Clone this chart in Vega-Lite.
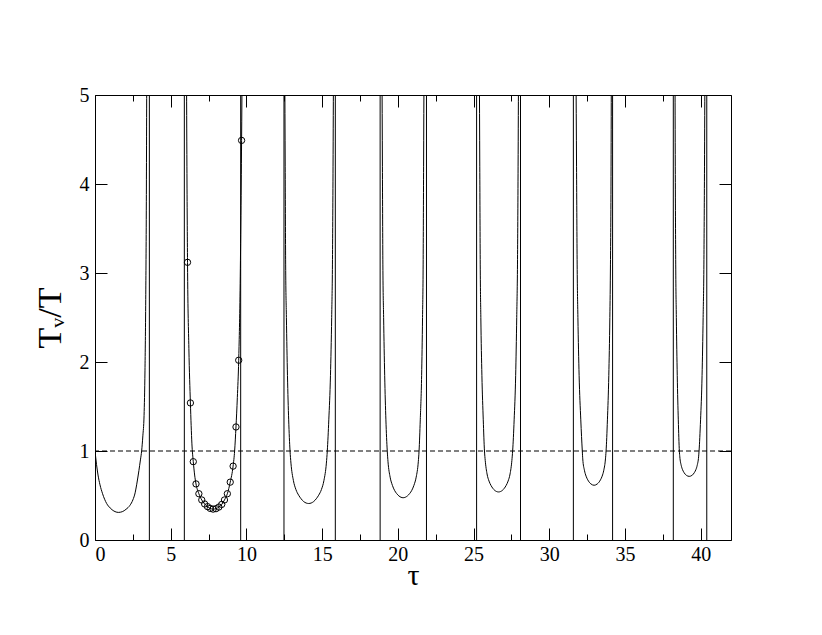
{
  "$schema": "https://vega.github.io/schema/vega-lite/v6.json",
  "width": 636,
  "height": 445,
  "autosize": "none",
  "padding": {"left": 95, "top": 95, "right": 91, "bottom": 95},
  "background": "white",
  "config": {
    "view": {"stroke": "black", "strokeWidth": 1},
    "axis": {
      "labelFont": "Liberation Serif",
      "labelFontSize": 20,
      "labelColor": "black",
      "tickColor": "black",
      "tickWidth": 1,
      "domain": false,
      "grid": false,
      "titleFont": "Liberation Serif",
      "titleFontWeight": "normal",
      "titleColor": "black"
    }
  },
  "datasets": {
    "poles": [
      {"x": 3.59}, {"x": 5.90}, {"x": 9.62}, {"x": 12.48}, {"x": 15.87}, {"x": 18.83}, {"x": 21.89},
      {"x": 25.20}, {"x": 28.10}, {"x": 31.59}, {"x": 34.18}, {"x": 38.19}, {"x": 40.40}
    ],
    "curves": [
      {"b": 1, "x": 0, "y": 1.0}, {"b": 1, "x": 0.1, "y": 0.85}, {"b": 1, "x": 0.2, "y": 0.73}, {"b": 1, "x": 0.33, "y": 0.62},
      {"b": 1, "x": 0.5, "y": 0.52}, {"b": 1, "x": 0.77, "y": 0.41}, {"b": 1, "x": 1.0, "y": 0.36}, {"b": 1, "x": 1.25, "y": 0.325},
      {"b": 1, "x": 1.54, "y": 0.31}, {"b": 1, "x": 1.8, "y": 0.318}, {"b": 1, "x": 2.05, "y": 0.345}, {"b": 1, "x": 2.31, "y": 0.39},
      {"b": 1, "x": 2.5, "y": 0.45}, {"b": 1, "x": 2.65, "y": 0.53}, {"b": 1, "x": 2.75, "y": 0.62}, {"b": 1, "x": 2.9, "y": 0.78},
      {"b": 1, "x": 3.0, "y": 0.9}, {"b": 1, "x": 3.08, "y": 1.0}, {"b": 1, "x": 3.16, "y": 1.17}, {"b": 1, "x": 3.24, "y": 1.4},
      {"b": 1, "x": 3.3, "y": 1.9}, {"b": 1, "x": 3.35, "y": 2.7}, {"b": 1, "x": 3.39, "y": 3.8}, {"b": 1, "x": 3.42, "y": 5.4},

      {"b": 2, "x": 6.04, "y": 5.4}, {"b": 2, "x": 6.07, "y": 4.2}, {"b": 2, "x": 6.11, "y": 3.12}, {"b": 2, "x": 6.2, "y": 2.15},
      {"b": 2, "x": 6.30, "y": 1.54}, {"b": 2, "x": 6.40, "y": 1.08}, {"b": 2, "x": 6.49, "y": 0.88}, {"b": 2, "x": 6.58, "y": 0.73},
      {"b": 2, "x": 6.67, "y": 0.63}, {"b": 2, "x": 6.86, "y": 0.52}, {"b": 2, "x": 7.05, "y": 0.45}, {"b": 2, "x": 7.24, "y": 0.405},
      {"b": 2, "x": 7.43, "y": 0.375}, {"b": 2, "x": 7.61, "y": 0.355}, {"b": 2, "x": 7.80, "y": 0.347}, {"b": 2, "x": 7.99, "y": 0.352},
      {"b": 2, "x": 8.18, "y": 0.37}, {"b": 2, "x": 8.37, "y": 0.40}, {"b": 2, "x": 8.55, "y": 0.45}, {"b": 2, "x": 8.74, "y": 0.52},
      {"b": 2, "x": 8.93, "y": 0.65}, {"b": 2, "x": 9.12, "y": 0.83}, {"b": 2, "x": 9.22, "y": 1.0}, {"b": 2, "x": 9.31, "y": 1.27},
      {"b": 2, "x": 9.40, "y": 1.6}, {"b": 2, "x": 9.49, "y": 2.02}, {"b": 2, "x": 9.58, "y": 2.8}, {"b": 2, "x": 9.68, "y": 4.49},
      {"b": 2, "x": 9.72, "y": 5.4},

      {"b": 3, "x": 12.53, "y": 5.4}, {"b": 3, "x": 12.56, "y": 4.2}, {"b": 3, "x": 12.59, "y": 3.1}, {"b": 3, "x": 12.64, "y": 2.5},
      {"b": 3, "x": 12.71, "y": 1.85}, {"b": 3, "x": 12.79, "y": 1.35}, {"b": 3, "x": 12.88, "y": 1.0}, {"b": 3, "x": 12.94, "y": 0.864},
      {"b": 3, "x": 13.10, "y": 0.67}, {"b": 3, "x": 13.27, "y": 0.566}, {"b": 3, "x": 13.45, "y": 0.503}, {"b": 3, "x": 13.61, "y": 0.463},
      {"b": 3, "x": 13.78, "y": 0.432}, {"b": 3, "x": 14.11, "y": 0.41}, {"b": 3, "x": 14.44, "y": 0.432}, {"b": 3, "x": 14.61, "y": 0.463},
      {"b": 3, "x": 14.77, "y": 0.503}, {"b": 3, "x": 14.95, "y": 0.566}, {"b": 3, "x": 15.12, "y": 0.67}, {"b": 3, "x": 15.28, "y": 0.864},
      {"b": 3, "x": 15.34, "y": 1.0}, {"b": 3, "x": 15.44, "y": 1.35}, {"b": 3, "x": 15.55, "y": 1.85}, {"b": 3, "x": 15.63, "y": 2.5},
      {"b": 3, "x": 15.68, "y": 3.1}, {"b": 3, "x": 15.72, "y": 4.2}, {"b": 3, "x": 15.75, "y": 5.4},

      {"b": 4, "x": 18.95, "y": 5.4}, {"b": 4, "x": 18.98, "y": 4.2}, {"b": 4, "x": 19.01, "y": 3.1}, {"b": 4, "x": 19.06, "y": 2.5},
      {"b": 4, "x": 19.13, "y": 1.85}, {"b": 4, "x": 19.21, "y": 1.35}, {"b": 4, "x": 19.30, "y": 1.0}, {"b": 4, "x": 19.35, "y": 0.879},
      {"b": 4, "x": 19.49, "y": 0.706}, {"b": 4, "x": 19.64, "y": 0.614}, {"b": 4, "x": 19.78, "y": 0.558}, {"b": 4, "x": 19.92, "y": 0.522},
      {"b": 4, "x": 20.07, "y": 0.495}, {"b": 4, "x": 20.35, "y": 0.475}, {"b": 4, "x": 20.63, "y": 0.495}, {"b": 4, "x": 20.78, "y": 0.522},
      {"b": 4, "x": 20.92, "y": 0.558}, {"b": 4, "x": 21.06, "y": 0.614}, {"b": 4, "x": 21.21, "y": 0.706}, {"b": 4, "x": 21.35, "y": 0.879},
      {"b": 4, "x": 21.40, "y": 1.0}, {"b": 4, "x": 21.48, "y": 1.35}, {"b": 4, "x": 21.57, "y": 1.85}, {"b": 4, "x": 21.63, "y": 2.5},
      {"b": 4, "x": 21.67, "y": 3.1}, {"b": 4, "x": 21.70, "y": 4.2}, {"b": 4, "x": 21.73, "y": 5.4},

      {"b": 5, "x": 25.38, "y": 5.4}, {"b": 5, "x": 25.41, "y": 4.2}, {"b": 5, "x": 25.44, "y": 3.1}, {"b": 5, "x": 25.48, "y": 2.5},
      {"b": 5, "x": 25.55, "y": 1.85}, {"b": 5, "x": 25.64, "y": 1.35}, {"b": 5, "x": 25.72, "y": 1.0}, {"b": 5, "x": 25.77, "y": 0.894},
      {"b": 5, "x": 25.89, "y": 0.742}, {"b": 5, "x": 26.02, "y": 0.662}, {"b": 5, "x": 26.15, "y": 0.613}, {"b": 5, "x": 26.27, "y": 0.581},
      {"b": 5, "x": 26.40, "y": 0.557}, {"b": 5, "x": 26.65, "y": 0.54}, {"b": 5, "x": 26.90, "y": 0.557}, {"b": 5, "x": 27.03, "y": 0.581},
      {"b": 5, "x": 27.15, "y": 0.613}, {"b": 5, "x": 27.28, "y": 0.662}, {"b": 5, "x": 27.41, "y": 0.742}, {"b": 5, "x": 27.53, "y": 0.894},
      {"b": 5, "x": 27.58, "y": 1.0}, {"b": 5, "x": 27.68, "y": 1.35}, {"b": 5, "x": 27.78, "y": 1.85}, {"b": 5, "x": 27.85, "y": 2.5},
      {"b": 5, "x": 27.90, "y": 3.1}, {"b": 5, "x": 27.94, "y": 4.2}, {"b": 5, "x": 27.97, "y": 5.4},

      {"b": 6, "x": 31.76, "y": 5.4}, {"b": 6, "x": 31.80, "y": 4.2}, {"b": 6, "x": 31.84, "y": 3.1}, {"b": 6, "x": 31.89, "y": 2.5},
      {"b": 6, "x": 31.97, "y": 1.85}, {"b": 6, "x": 32.08, "y": 1.35}, {"b": 6, "x": 32.18, "y": 1.0}, {"b": 6, "x": 32.21, "y": 0.911},
      {"b": 6, "x": 32.32, "y": 0.784}, {"b": 6, "x": 32.43, "y": 0.717}, {"b": 6, "x": 32.54, "y": 0.676}, {"b": 6, "x": 32.64, "y": 0.649},
      {"b": 6, "x": 32.75, "y": 0.630}, {"b": 6, "x": 32.96, "y": 0.615}, {"b": 6, "x": 33.17, "y": 0.630}, {"b": 6, "x": 33.28, "y": 0.649},
      {"b": 6, "x": 33.38, "y": 0.676}, {"b": 6, "x": 33.49, "y": 0.717}, {"b": 6, "x": 33.60, "y": 0.784}, {"b": 6, "x": 33.71, "y": 0.911},
      {"b": 6, "x": 33.75, "y": 1.0}, {"b": 6, "x": 33.84, "y": 1.35}, {"b": 6, "x": 33.93, "y": 1.85}, {"b": 6, "x": 34.00, "y": 2.5},
      {"b": 6, "x": 34.04, "y": 3.1}, {"b": 6, "x": 34.08, "y": 4.2}, {"b": 6, "x": 34.10, "y": 5.4},

      {"b": 7, "x": 38.30, "y": 5.4}, {"b": 7, "x": 38.32, "y": 4.2}, {"b": 7, "x": 38.35, "y": 3.1}, {"b": 7, "x": 38.39, "y": 2.5},
      {"b": 7, "x": 38.45, "y": 1.85}, {"b": 7, "x": 38.52, "y": 1.35}, {"b": 7, "x": 38.59, "y": 1.0}, {"b": 7, "x": 38.62, "y": 0.934},
      {"b": 7, "x": 38.71, "y": 0.840}, {"b": 7, "x": 38.80, "y": 0.790}, {"b": 7, "x": 38.89, "y": 0.760}, {"b": 7, "x": 38.97, "y": 0.740},
      {"b": 7, "x": 39.06, "y": 0.726}, {"b": 7, "x": 39.24, "y": 0.715}, {"b": 7, "x": 39.42, "y": 0.726}, {"b": 7, "x": 39.51, "y": 0.740},
      {"b": 7, "x": 39.59, "y": 0.760}, {"b": 7, "x": 39.68, "y": 0.790}, {"b": 7, "x": 39.77, "y": 0.840}, {"b": 7, "x": 39.86, "y": 0.934},
      {"b": 7, "x": 39.89, "y": 1.0}, {"b": 7, "x": 39.99, "y": 1.35}, {"b": 7, "x": 40.09, "y": 1.85}, {"b": 7, "x": 40.16, "y": 2.5},
      {"b": 7, "x": 40.21, "y": 3.1}, {"b": 7, "x": 40.25, "y": 4.2}, {"b": 7, "x": 40.28, "y": 5.4}
    ],
    "circles": [
      {"x": 6.11, "y": 3.12}, {"x": 6.30, "y": 1.54}, {"x": 6.49, "y": 0.88}, {"x": 6.67, "y": 0.63},
      {"x": 6.86, "y": 0.52}, {"x": 7.05, "y": 0.45}, {"x": 7.24, "y": 0.405}, {"x": 7.43, "y": 0.375},
      {"x": 7.61, "y": 0.355}, {"x": 7.80, "y": 0.347}, {"x": 7.99, "y": 0.352}, {"x": 8.18, "y": 0.37},
      {"x": 8.37, "y": 0.40}, {"x": 8.55, "y": 0.45}, {"x": 8.74, "y": 0.52}, {"x": 8.93, "y": 0.65},
      {"x": 9.12, "y": 0.83}, {"x": 9.31, "y": 1.27}, {"x": 9.49, "y": 2.02}, {"x": 9.68, "y": 4.49}
    ]
  },
  "layer": [
    {
      "data": {"name": "poles"},
      "mark": {"type": "rule", "color": "black", "strokeWidth": 1},
      "encoding": {
        "x": {
          "field": "x", "type": "quantitative",
          "scale": {"domain": [0, 42], "nice": false, "zero": false},
          "axis": {
            "orient": "bottom",
            "values": [0, 2.5, 5, 7.5, 10, 12.5, 15, 17.5, 20, 22.5, 25, 27.5, 30, 32.5, 35, 37.5, 40],
            "tickSize": {"condition": {"test": "datum.value % 5 === 0", "value": -12}, "value": -6},
            "labelExpr": "datum.value % 5 === 0 ? datum.label : ''",
            "labelFont": "Liberation Serif",
            "labelFontSize": 20,
            "labelPadding": 16,
            "title": "τ",
            "titleFont": "Liberation Serif",
            "titleFontSize": 30,
            "titlePadding": -4
          }
        }
      }
    },
    {
      "data": {"name": "curves"},
      "mark": {"type": "line", "color": "black", "strokeWidth": 1, "clip": true, "interpolate": "monotone"},
      "encoding": {
        "x": {
          "field": "x", "type": "quantitative",
          "scale": {"domain": [0, 42], "nice": false, "zero": false},
          "axis": {
            "orient": "top",
            "values": [0, 2.5, 5, 7.5, 10, 12.5, 15, 17.5, 20, 22.5, 25, 27.5, 30, 32.5, 35, 37.5, 40],
            "tickSize": {"condition": {"test": "datum.value % 5 === 0", "value": -12}, "value": -6},
            "labels": false,
            "title": null
          }
        },
        "y": {
          "field": "y", "type": "quantitative",
          "scale": {"domain": [0, 5], "nice": false, "zero": false},
          "axis": {
            "orient": "left",
            "values": [0, 1, 2, 3, 4, 5],
            "tickSize": -12,
            "labelFont": "Liberation Serif",
            "labelFontSize": 20,
            "labelPadding": 18,
            "title": "Tᵥ/T",
            "titleFont": "Liberation Serif",
            "titleFontSize": 34,
            "titlePadding": 12
          }
        },
        "detail": {"field": "b", "type": "nominal"}
      }
    },
    {
      "data": {"values": [{}]},
      "mark": {"type": "rule", "color": "black", "strokeWidth": 1, "strokeDash": [5, 3]},
      "encoding": {
        "y": {
          "datum": 1, "type": "quantitative",
          "scale": {"domain": [0, 5], "nice": false, "zero": false},
          "axis": {
            "orient": "right",
            "values": [0, 1, 2, 3, 4, 5],
            "tickSize": -12,
            "labels": false,
            "title": null
          }
        }
      }
    },
    {
      "data": {"name": "circles"},
      "mark": {"type": "point", "shape": "circle", "filled": false, "color": "black", "size": 40, "strokeWidth": 1, "opacity": 1},
      "encoding": {
        "x": {"field": "x", "type": "quantitative", "scale": {"domain": [0, 42], "nice": false, "zero": false}, "axis": null},
        "y": {"field": "y", "type": "quantitative", "scale": {"domain": [0, 5], "nice": false, "zero": false}, "axis": null}
      }
    }
  ],
  "resolve": {"axis": {"x": "independent", "y": "independent"}}
}
